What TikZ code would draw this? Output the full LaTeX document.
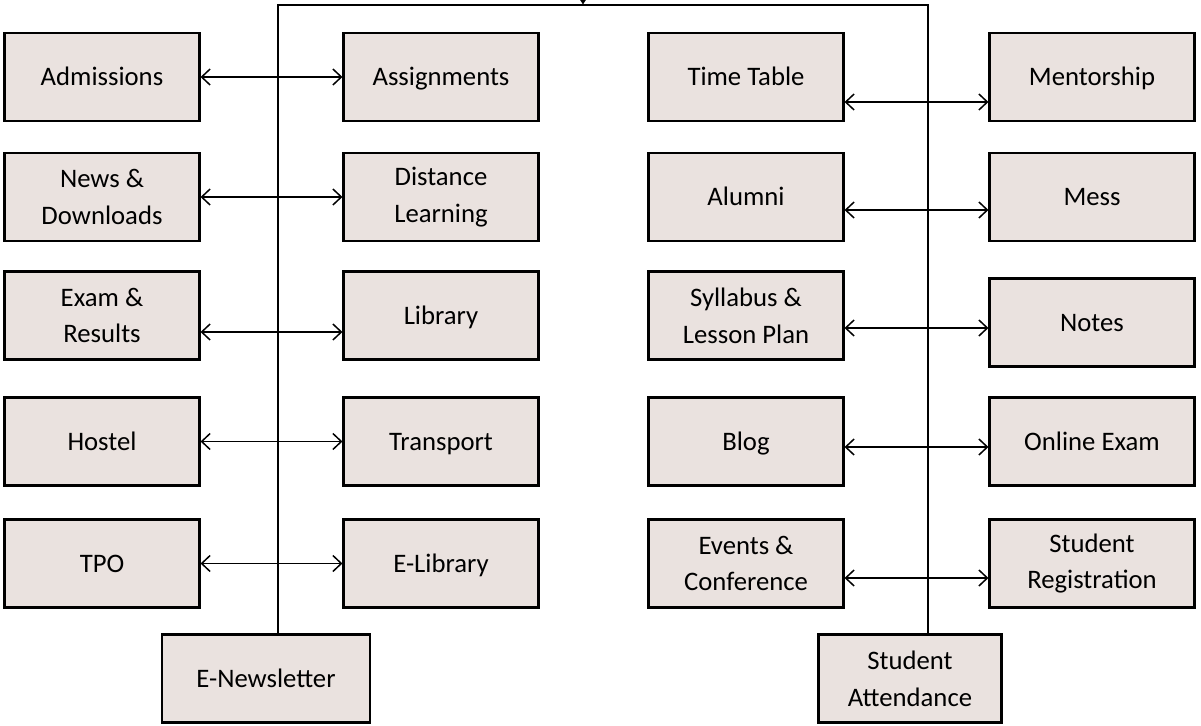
\documentclass[tikz,border=0pt]{standalone}
\usepackage{fontspec}
\setmainfont{Carlito}
\usepackage{tikz}
\usetikzlibrary{positioning, calc, arrows.meta}

\definecolor{boxfill}{RGB}{234,226,223}

\tikzset{
  modbox/.style={draw=black, line width=1.2pt, fill=boxfill, align=center,
    minimum width=3.9cm, minimum height=1.76cm, inner sep=2pt,
    font=\fontsize{15.2}{21}\selectfont},
  oneline/.style={modbox, text height=10pt, text depth=0pt},
  link/.style={{Straight Barb[length=1.7mm,width=3.2mm]}-{Straight Barb[length=1.7mm,width=3.2mm]}, line width=0.85pt},
  bus/.style={line width=1.1pt}
}

\begin{document}
\begin{tikzpicture}[x=0.02cm, y=-0.02cm]
        \useasboundingbox (0,0) rectangle (1201,726);

        % First pair of columns
        \node[oneline] (adm)  at (102,77)    {Admissions};
        \node[modbox]  (news) at (102,197)   {News \&\\Downloads};
        \node[modbox]  (exam) at (102,315.5) {Exam \&\\Results};
        \node[oneline] (hos)  at (102,441.5) {Hostel};
        \node[oneline] (tpo)  at (102,563.5) {TPO};

        \node[oneline] (asg)  at (441,77)    {Assignments};
        \node[modbox]  (dist) at (441,197)   {Distance\\Learning};
        \node[oneline] (lib)  at (441,315.5) {Library};
        \node[oneline] (tra)  at (441,441.5) {Transport};
        \node[oneline] (elib) at (441,563.5) {E-Library};

        % Second pair of columns
        \node[oneline] (tt)   at (746,77)    {Time Table};
        \node[oneline] (alu)  at (746,197)   {Alumni};
        \node[modbox]  (syl)  at (746,315.5) {Syllabus \&\\Lesson Plan};
        \node[oneline] (blog) at (746,441.5) {Blog};
        \node[modbox]  (evt)  at (746,563.5) {Events \&\\Conference};

        \node[oneline, minimum width=4.1cm] (ment) at (1092,77)    {Mentorship};
        \node[oneline, minimum width=4.1cm] (mess) at (1092,197)   {Mess};
        \node[oneline, minimum width=4.1cm] (note) at (1092,322.5) {Notes};
        \node[oneline, minimum width=4.1cm] (onl)  at (1092,441.5) {Online Exam};
        \node[modbox,  minimum width=4.1cm] (sreg) at (1092,563.5) {Student\\Registration};

        % Bottom boxes
        \node[oneline, minimum width=4.16cm] (enews) at (266,678.5) {E-Newsletter};
        \node[modbox,  minimum width=3.66cm] (satt)  at (910,678.5) {Student\\Attendance};

        % Bus lines
        \coordinate (tl) at (278,5);
        \coordinate (tr) at (928,5);
        \coordinate (tin) at (583,-3);
        \draw[bus] (enews.north -| tl) -- (tl) -- (tr) -- (satt.north -| tr);
        \draw[-{Triangle[length=1mm,width=1.2mm]}, line width=0.6pt] (tin) -- (583,4.5);

        % Arrows
        \draw[link] (adm.east) -- (asg.west);
        \draw[link] (news.east) -- (dist.west);
        \draw[link] ([yshift=-0.33cm]exam.east) -- ([yshift=-0.33cm]lib.west);
        \draw[link] (hos.east) -- (tra.west);
        \draw[link] (tpo.east) -- (elib.west);

        \draw[link] ([yshift=-0.5cm]tt.east) -- ([yshift=-0.5cm]ment.west);
        \draw[link] ([yshift=-0.26cm]alu.east) -- ([yshift=-0.26cm]mess.west);
        \draw[link] ([yshift=-0.25cm]syl.east) -- ([yshift=-0.25cm]syl.east -| note.west);
        \draw[link] ([yshift=-0.11cm]blog.east) -- ([yshift=-0.11cm]onl.west);
        \draw[link] ([yshift=-0.29cm]evt.east) -- ([yshift=-0.29cm]sreg.west);
    \end{tikzpicture}
\end{document}
